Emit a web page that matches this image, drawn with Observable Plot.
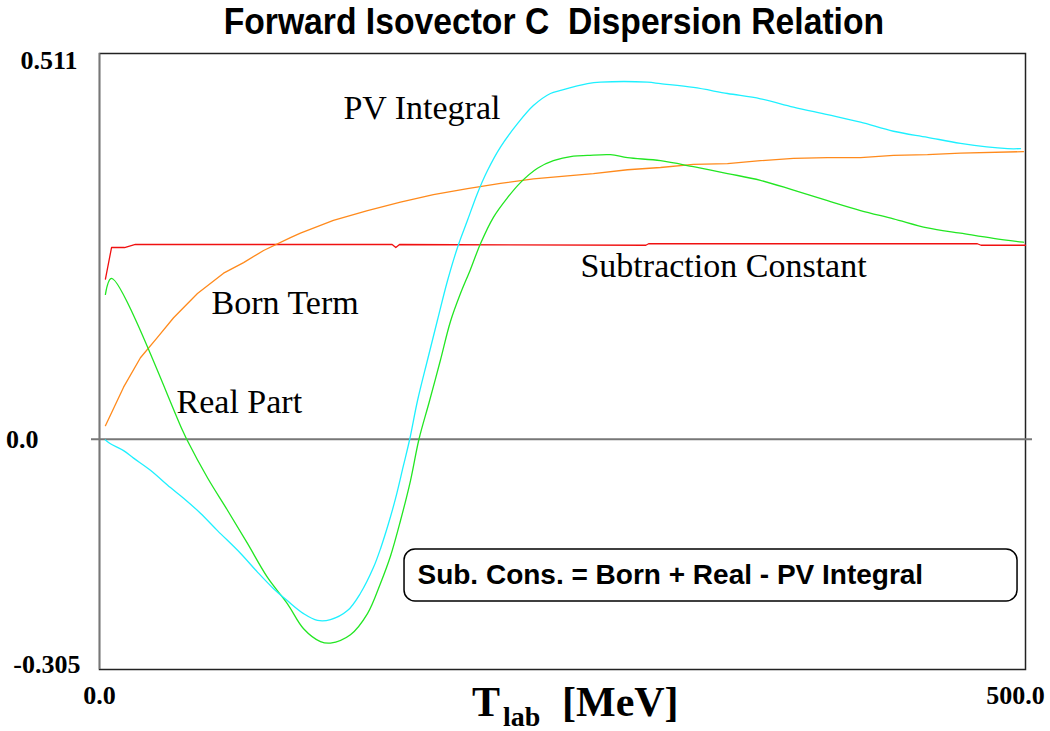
<!DOCTYPE html>
<html>
<head>
<meta charset="utf-8">
<script src="https://cdn.jsdelivr.net/npm/d3@7"></script>
<script src="https://cdn.jsdelivr.net/npm/@observablehq/plot@0.6"></script>
<style>
  html, body { margin: 0; padding: 0; background: white; }
  #title {
    width: 1050px; height: 40px; box-sizing: border-box; padding-left: 58px; overflow: visible;
    text-align: center; font-family: "Liberation Sans", Arial, sans-serif;
    font-weight: bold; font-size: 37px; line-height: 44px; color: #000;
  }
  #title span { display: inline-block; transform: scaleX(0.91); transform-origin: 50% 50%; white-space: pre; }
  svg { display: block; }
</style>
</head>
<body>
<div id="title"><span>Forward Isovector C  Dispersion Relation</span></div>
<div id="chart"></div>
<script>
// T_lab [MeV] vs value
const subtractionConstant = [[3.2,0.212],[6.5,0.254],[13.5,0.254],[19.4,0.258],[158,0.258],[160,0.254],[162,0.258],[295,0.257],[296.5,0.259],[474,0.259],[476,0.257],[500,0.257]];
const bornTerm = [[3.2,0.018],[13.0,0.069],[22.1,0.108],[31.3,0.135],[40.0,0.161],[52.9,0.193],[67.0,0.220],[77.8,0.234],[88.6,0.250],[103.1,0.267],[108.5,0.273],[126.3,0.290],[144.7,0.303],[162.5,0.314],[180.3,0.324],[198.7,0.332],[216.5,0.339],[234.3,0.345],[252.7,0.349],[266.7,0.352],[285.1,0.357],[302.9,0.360],[320.7,0.364],[339.1,0.365],[356.9,0.369],[374.7,0.372],[393.1,0.373],[410.9,0.373],[428.7,0.376],[447.1,0.377],[464.9,0.379],[498.9,0.381]];
const realPart = [[3.2,0.192],[6.5,0.213],[44.8,0.012],[47.5,-0.002],[58.3,-0.051],[69.1,-0.094],[79.9,-0.138],[90.7,-0.183],[101.5,-0.218],[110.2,-0.251],[119.3,-0.268],[124.7,-0.270],[135.5,-0.259],[144.7,-0.231],[151.7,-0.191],[157.1,-0.155],[162.5,-0.108],[167.9,-0.055],[172.5,0.000],[178.0,0.049],[184.0,0.104],[189.5,0.156],[194.9,0.193],[200.3,0.225],[205.7,0.259],[212.7,0.294],[220.3,0.320],[227.3,0.340],[236.5,0.359],[245.1,0.369],[255.9,0.375],[263.5,0.376],[275.9,0.377],[285.1,0.373],[302.9,0.369],[320.7,0.361],[339.1,0.352],[356.9,0.343],[374.7,0.330],[393.1,0.316],[410.9,0.303],[428.7,0.292],[447.1,0.280],[464.9,0.273],[482.7,0.266],[498.9,0.261]];
const pvIntegral = [[3.2,-0.001],[5.9,-0.006],[13.0,-0.015],[18.4,-0.025],[27.5,-0.041],[38.3,-0.064],[45.4,-0.078],[54.5,-0.098],[63.7,-0.121],[76.1,-0.151],[85.3,-0.176],[94.0,-0.198],[101.5,-0.214],[110.2,-0.231],[117.7,-0.240],[124.7,-0.239],[133.9,-0.227],[140.9,-0.204],[147.9,-0.170],[152.0,-0.143],[156.0,-0.112],[160.0,-0.077],[164.0,-0.036],[167.5,0.000],[171.7,0.051],[177.1,0.105],[182.5,0.158],[187.9,0.210],[193.3,0.254],[198.7,0.290],[204.1,0.326],[209.5,0.356],[216.5,0.387],[225.7,0.418],[234.3,0.442],[243.5,0.458],[248.9,0.462],[263.5,0.471],[270.5,0.473],[295.9,0.473],[302.9,0.471],[320.7,0.466],[339.1,0.458],[356.9,0.451],[374.7,0.440],[393.1,0.430],[410.9,0.420],[428.7,0.408],[447.1,0.400],[464.9,0.392],[490.3,0.385],[497.3,0.385]];

const curveLabels = [
  {text: "PV Integral", T: 131.7, v: 0.438},
  {text: "Born Term", T: 60.5, v: 0.180},
  {text: "Real Part", T: 41.6, v: 0.049},
  {text: "Subtraction Constant", T: 259.7, v: 0.230}
];
const formulaBox = [{T1: 164.7, T2: 495.7, v1: -0.146, v2: -0.215}];
const formulaText = [{text: "Sub. Cons. = Born + Real - PV Integral", T: 171.7, v: -0.180}];

const xTicksLeft = [0];
const xTicksRight = [500];

const serif = "'Liberation Serif', 'Times New Roman', serif";
const sans = "'Liberation Sans', Arial, sans-serif";

const lineOpts = (color, curve = "linear") => ({x: d => d[0], y: d => d[1], stroke: color, strokeWidth: 1.3, curve});

const chart = Plot.plot({
  width: 1050, height: 691,
  marginLeft: 99, marginRight: 25, marginTop: 13, marginBottom: 62,
  style: {background: "none"},
  x: {domain: [0, 500]},
  y: {domain: [-0.305, 0.511]},
  marks: [
    Plot.frame({stroke: "#222", strokeWidth: 1.5}),
    Plot.ruleX([0], {stroke: "#777", strokeWidth: 1.5}),
    Plot.ruleY([0], {stroke: "#777", strokeWidth: 2, insetLeft: -8, insetRight: -7}),
    Plot.line(subtractionConstant, lineOpts("#f01010")),
    Plot.line(bornTerm, lineOpts("#ff8a1c")),
    Plot.line(realPart, lineOpts("#22e622", "catmull-rom")),
    Plot.line(pvIntegral, lineOpts("#1ef0ff", "catmull-rom")),
    Plot.text(curveLabels, {x: "T", y: "v", text: "text", textAnchor: "start", fontSize: 34, fontFamily: serif, fill: "#000"}),
    Plot.rect(formulaBox, {x1: "T1", x2: "T2", y1: "v1", y2: "v2", rx: 11, fill: "white", stroke: "#000", strokeWidth: 1.5}),
    Plot.text(formulaText, {x: "T", y: "v", text: "text", textAnchor: "start", fontSize: 28, fontWeight: "bold", fontFamily: sans, fill: "#000"}),
    Plot.axisX(xTicksLeft, {tickSize: 0, tickPadding: 16, tickFormat: d => d.toFixed(1), fontSize: 26, fontWeight: "bold", fontFamily: serif, label: null}),
    Plot.axisX(xTicksRight, {tickSize: 0, tickPadding: 16, dx: -10, tickFormat: d => d.toFixed(1), fontSize: 26, fontWeight: "bold", fontFamily: serif, label: null}),
    Plot.axisY([0.511], {tickSize: 0, tickPadding: 22, dy: 7, tickFormat: d => String(d), fontSize: 26, fontWeight: "bold", fontFamily: serif, label: null}),
    Plot.axisY([0], {tickSize: 0, tickPadding: 61, tickFormat: d => d.toFixed(1), fontSize: 26, fontWeight: "bold", fontFamily: serif, label: null}),
    Plot.axisY([-0.305], {tickSize: 0, tickPadding: 19, dy: -5, tickFormat: d => String(d), fontSize: 26, fontWeight: "bold", fontFamily: serif, label: null})
  ]
});

document.getElementById("chart").appendChild(chart);

// x-axis title with subscript
const lbl = d3.select(chart).append("text")
  .attr("font-family", serif).attr("font-weight", "bold").attr("fill", "#000")
  .attr("text-anchor", "start");
lbl.append("tspan").attr("x", 472).attr("y", 676).attr("font-size", 42).text("T");
lbl.append("tspan").attr("x", 503).attr("y", 686).attr("font-size", 28).text("lab");
lbl.append("tspan").attr("x", 562).attr("y", 676).attr("font-size", 42).text("[MeV]");
</script>
</body>
</html>
